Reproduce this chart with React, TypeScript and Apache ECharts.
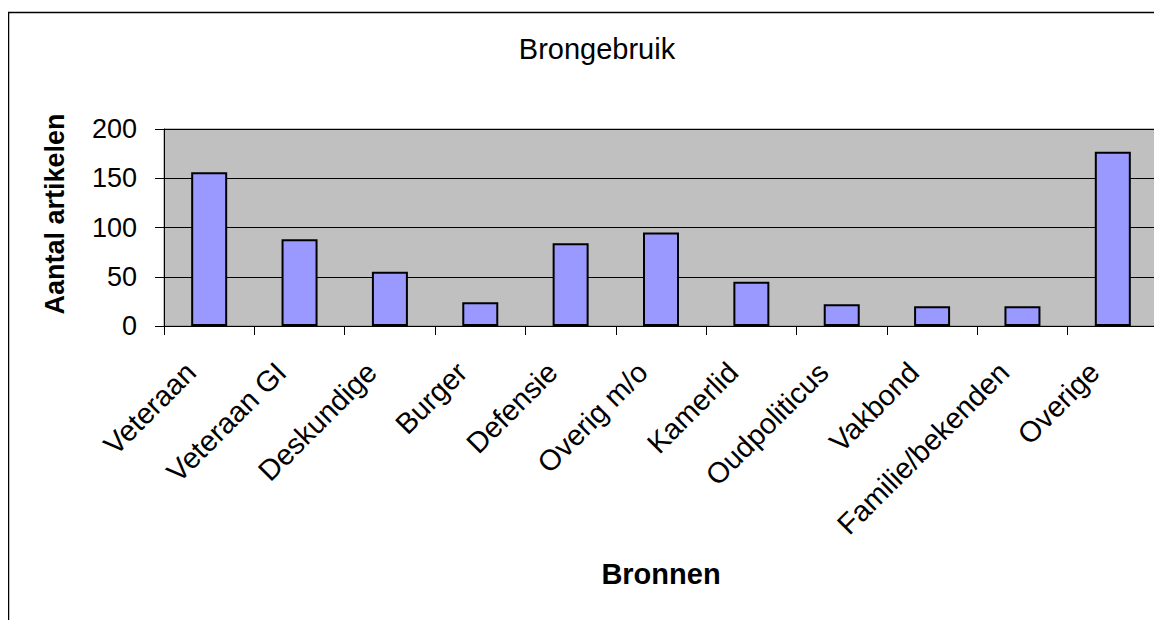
import React, { useEffect, useRef } from "react";
import * as echarts from "echarts";

const categories = [
  "Veteraan",
  "Veteraan GI",
  "Deskundige",
  "Burger",
  "Defensie",
  "Overig m/o",
  "Kamerlid",
  "Oudpoliticus",
  "Vakbond",
  "Familie/bekenden",
  "Overige",
];
const values = [156, 88, 55, 24, 84, 95, 45, 22, 20, 20, 177];
const yTicks = { min: 0, max: 200, interval: 50 };
const titleText = "Brongebruik";
const xName = "Bronnen";
const yName = "Aantal artikelen";

const FONT = "Liberation Sans, Arial, sans-serif";

export default function App() {
  const ref = useRef<HTMLDivElement>(null);
  useEffect(() => {
    if (!ref.current) return;
    const chart = echarts.init(ref.current, null, { renderer: "svg" });
    chart.setOption({
      animation: false,
      backgroundColor: "#ffffff",
      title: {
        text: titleText,
        left: 584,
        top: 21,
        textAlign: "center",
        textStyle: { fontFamily: FONT, fontSize: 29, fontWeight: "normal", color: "#000" },
      },
      graphic: [
        {
          type: "rect",
          shape: { x: 0.5, y: 4.5, width: 1300, height: 800 },
          style: { fill: "none", stroke: "#000", lineWidth: 1.5 },
          silent: true,
        },
        {
          type: "text",
          x: 47,
          y: 206,
          rotation: Math.PI / 2,
          style: {
            text: yName,
            fontFamily: FONT,
            fontSize: 27,
            fontWeight: "bold",
            fill: "#000",
            align: "center",
            verticalAlign: "middle",
          },
          silent: true,
        },
      ],
      grid: {
        left: 156,
        right: 4,
        top: 121,
        bottom: 294,
        show: true,
        backgroundColor: "#c0c0c0",
        borderColor: "#808080",
        borderWidth: 1,
        containLabel: false,
      },
      xAxis: {
        type: "category",
        data: categories,
        name: xName,
        nameLocation: "middle",
        nameGap: 233,
        nameTextStyle: { fontFamily: FONT, fontSize: 29, fontWeight: "bold", color: "#000" },
        axisLine: { show: true, lineStyle: { color: "#000", width: 1 } },
        axisTick: { show: true, alignWithLabel: false, length: 9, inside: false, lineStyle: { color: "#000" } },
        axisLabel: {
          rotate: 45,
          interval: 0,
          margin: 23,
          padding: [0, 26, 0, 0],
          fontFamily: FONT,
          fontSize: 29,
          color: "#000",
        },
        splitLine: { show: false },
      },
      yAxis: {
        type: "value",
        min: yTicks.min,
        max: yTicks.max,
        interval: yTicks.interval,
        axisLine: { show: true, lineStyle: { color: "#000", width: 1 } },
        axisTick: { show: true, length: 9, lineStyle: { color: "#000" } },
        axisLabel: { margin: 27, fontFamily: FONT, fontSize: 27, color: "#000" },
        splitLine: { show: true, lineStyle: { color: "#000", width: 1 } },
      },
      series: [
        {
          type: "bar",
          data: values,
          barWidth: 36,
          itemStyle: { color: "#9999ff", borderColor: "#000", borderWidth: 2 },
        },
      ],
    });
    return () => chart.dispose();
  }, []);
  return <div ref={ref} style={{ width: 1154, height: 612 }} />;
}
